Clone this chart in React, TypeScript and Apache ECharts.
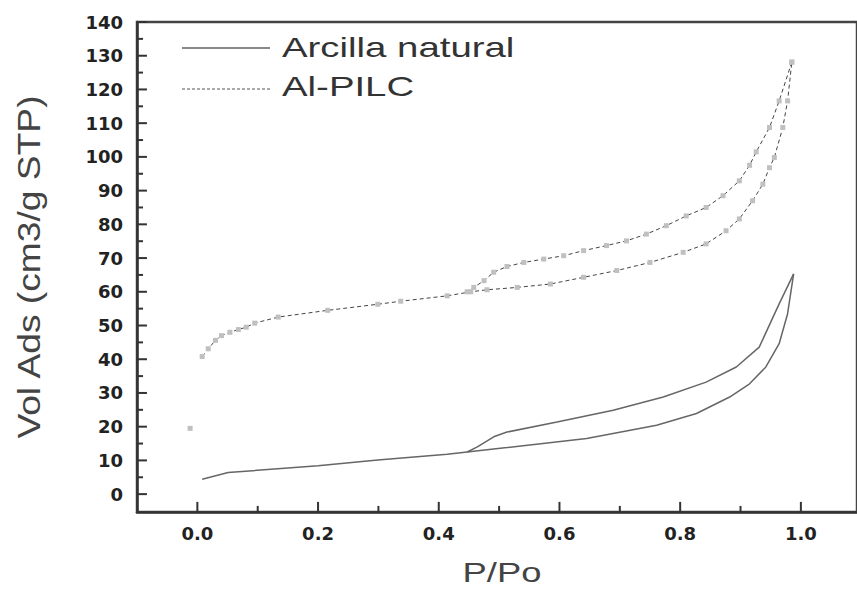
import React, { useEffect, useRef } from "react";
import * as echarts from "echarts";

const seriesNames = ["Arcilla natural", "Al-PILC"];
const xTitle = "P/Po";
const yTitle = "Vol Ads (cm3/g STP)";

// Arcilla natural
const arcillaAdsP = [0.008, 0.051, 0.2, 0.299, 0.414, 0.447, 0.513, 0.645, 0.761, 0.827, 0.882, 0.915, 0.942, 0.964, 0.978, 0.988];
const arcillaAdsV = [4.4, 6.4, 8.4, 10.1, 11.8, 12.5, 13.8, 16.5, 20.4, 23.9, 28.8, 32.7, 37.7, 44.6, 53.5, 65.3];
const arcillaDesP = [0.988, 0.964, 0.931, 0.893, 0.843, 0.772, 0.689, 0.596, 0.513, 0.491, 0.464, 0.447];
const arcillaDesV = [65.3, 56.4, 43.6, 37.7, 33.2, 28.8, 24.9, 21.4, 18.4, 17.0, 14.0, 12.5];

// Al-PILC
const pilcAdsP = [0.008, 0.018, 0.03, 0.04, 0.054, 0.068, 0.081, 0.095, 0.134, 0.216, 0.299, 0.337, 0.414, 0.453, 0.48, 0.53,
  0.585, 0.64, 0.695, 0.75, 0.805, 0.843, 0.876, 0.898, 0.92, 0.937, 0.948, 0.956, 0.97, 0.978, 0.985];
const pilcAdsV = [40.8, 43.1, 45.6, 47.0, 48.0, 48.8, 49.5, 50.7, 52.5, 54.5, 56.3, 57.2, 58.8, 60.0, 60.6, 61.3,
  62.3, 64.3, 66.3, 68.7, 71.7, 74.2, 78.1, 81.6, 87.0, 91.9, 96.8, 99.8, 108.7, 116.6, 128.1];
const pilcDesP = [0.985, 0.964, 0.948, 0.926, 0.915, 0.898, 0.871, 0.843, 0.81, 0.777, 0.744, 0.711, 0.678, 0.64, 0.607,
  0.574, 0.541, 0.513, 0.491, 0.475, 0.458, 0.447];
const pilcDesV = [128.1, 116.6, 108.7, 101.5, 97.5, 92.9, 88.5, 85.0, 82.5, 79.6, 77.1, 75.1, 73.7, 72.2, 70.7,
  69.7, 68.7, 67.5, 65.8, 63.3, 61.3, 60.0];

// stray Al-PILC point near P/Po = 0
const strayP = [-0.012];
const strayV = [19.5];

const xLabelValues = [0, 0.2, 0.4, 0.6, 0.8, 1.0];
const xMinorValues = [0.1, 0.3, 0.5, 0.7, 0.9];
const yLabelValues = [0, 10, 20, 30, 40, 50, 60, 70, 80, 90, 100, 110, 120, 130, 140];
const yMinorValues = [5, 15, 25, 35, 45, 55, 65, 75, 85, 95, 105, 115, 125, 135];

const X_MIN = -0.1;
const X_MAX = 1.093;
const Y_MIN = -5.3;
const Y_MAX = 140;

const pair = (xs: number[], ys: number[]) => xs.map((x, i) => [x, ys[i]]);

const axisColor = "#333";
const labelStyle = {
  fontFamily: "DejaVu Sans",
  fontWeight: "bold" as const,
  fontSize: 18,
  color: "#222",
};

// tick marks drawn as short two-point line series (lengths in axis units)
const tickSeries = (vals: number[], onX: boolean, len: number) =>
  vals.map((v) => ({
    type: "line",
    silent: true,
    z: 4,
    showSymbol: false,
    symbol: "none",
    lineStyle: { color: axisColor, width: 2 },
    tooltip: { show: false },
    data: onX ? [[v, Y_MIN], [v, Y_MIN + len]] : [[X_MIN, v], [X_MIN + len, v]],
  }));

export default function App() {
  const ref = useRef<HTMLDivElement>(null);
  useEffect(() => {
    const chart = echarts.init(ref.current!, null, { renderer: "svg" });
    const pilcLine = {
      type: "line",
      showSymbol: true,
      symbol: "rect",
      symbolSize: 5,
      itemStyle: { color: "#c0c0c0", borderWidth: 0 },
      lineStyle: { color: "#444", width: 1, type: [4, 3] },
    };
    const arcLine = {
      type: "line",
      showSymbol: false,
      symbol: "none",
      lineStyle: { color: "#666", width: 1.5 },
    };
    chart.setOption({
      animation: false,
      backgroundColor: "#ffffff",
      grid: { left: 137, right: -3, top: 22, bottom: 78, show: true, borderColor: "#444", borderWidth: 2.5, backgroundColor: "transparent" },
      xAxis: {
        type: "value",
        min: X_MIN,
        max: X_MAX,
        axisLine: { show: true, onZero: false, lineStyle: { color: axisColor, width: 2.5 } },
        axisTick: { show: false },
        axisLabel: { ...labelStyle, customValues: xLabelValues, margin: 12, formatter: (v: number) => v.toFixed(1) },
        splitLine: { show: false },
      },
      yAxis: {
        type: "value",
        min: Y_MIN,
        max: Y_MAX,
        axisLine: { show: true, onZero: false, lineStyle: { color: axisColor, width: 2.5 } },
        axisTick: { show: false },
        axisLabel: { ...labelStyle, customValues: yLabelValues, margin: 14 },
        splitLine: { show: false },
      },
      series: [
        { ...arcLine, name: seriesNames[0], data: pair(arcillaAdsP, arcillaAdsV) },
        { ...arcLine, name: seriesNames[0], data: pair(arcillaDesP, arcillaDesV) },
        { ...pilcLine, name: seriesNames[1], data: pair(pilcAdsP, pilcAdsV) },
        { ...pilcLine, name: seriesNames[1], data: pair(pilcDesP, pilcDesV) },
        {
          name: seriesNames[1],
          type: "scatter",
          data: pair(strayP, strayV),
          symbol: "rect",
          symbolSize: 5,
          itemStyle: { color: "#b0b0b0" },
        },
        ...tickSeries(xLabelValues, true, 3.0),
        ...tickSeries(xMinorValues, true, 1.8),
        ...tickSeries(yLabelValues, false, 0.0165),
        ...tickSeries(yMinorValues, false, 0.01),
      ],
      graphic: [
        { type: "line", shape: { x1: 182, y1: 48, x2: 270, y2: 48 }, style: { stroke: "#888", lineWidth: 2 } },
        { type: "line", shape: { x1: 182, y1: 89, x2: 270, y2: 89 }, style: { stroke: "#555", lineWidth: 1, lineDash: [3, 2] } },
        {
          type: "text", x: 282, y: 47, scaleX: 1.37,
          style: { text: seriesNames[0], fontFamily: "Liberation Sans", fontSize: 28, fill: "#333", align: "left", verticalAlign: "middle" },
        },
        {
          type: "text", x: 282, y: 86, scaleX: 1.37,
          style: { text: seriesNames[1], fontFamily: "Liberation Sans", fontSize: 28, fill: "#333", align: "left", verticalAlign: "middle" },
        },
        {
          type: "text", x: 29, y: 267, rotation: Math.PI / 2, scaleX: 1.2,
          style: { text: yTitle, fontFamily: "Liberation Sans", fontSize: 31, fill: "#444", align: "center", verticalAlign: "middle" },
        },
        {
          type: "text", x: 502, y: 573, scaleX: 1.3,
          style: { text: xTitle, fontFamily: "Liberation Sans", fontSize: 28, fill: "#444", align: "center", verticalAlign: "middle" },
        },
      ],
    });
    return () => chart.dispose();
  }, []);
  return <div ref={ref} style={{ position: "fixed", left: 0, top: 0, width: 857, height: 590 }} />;
}
